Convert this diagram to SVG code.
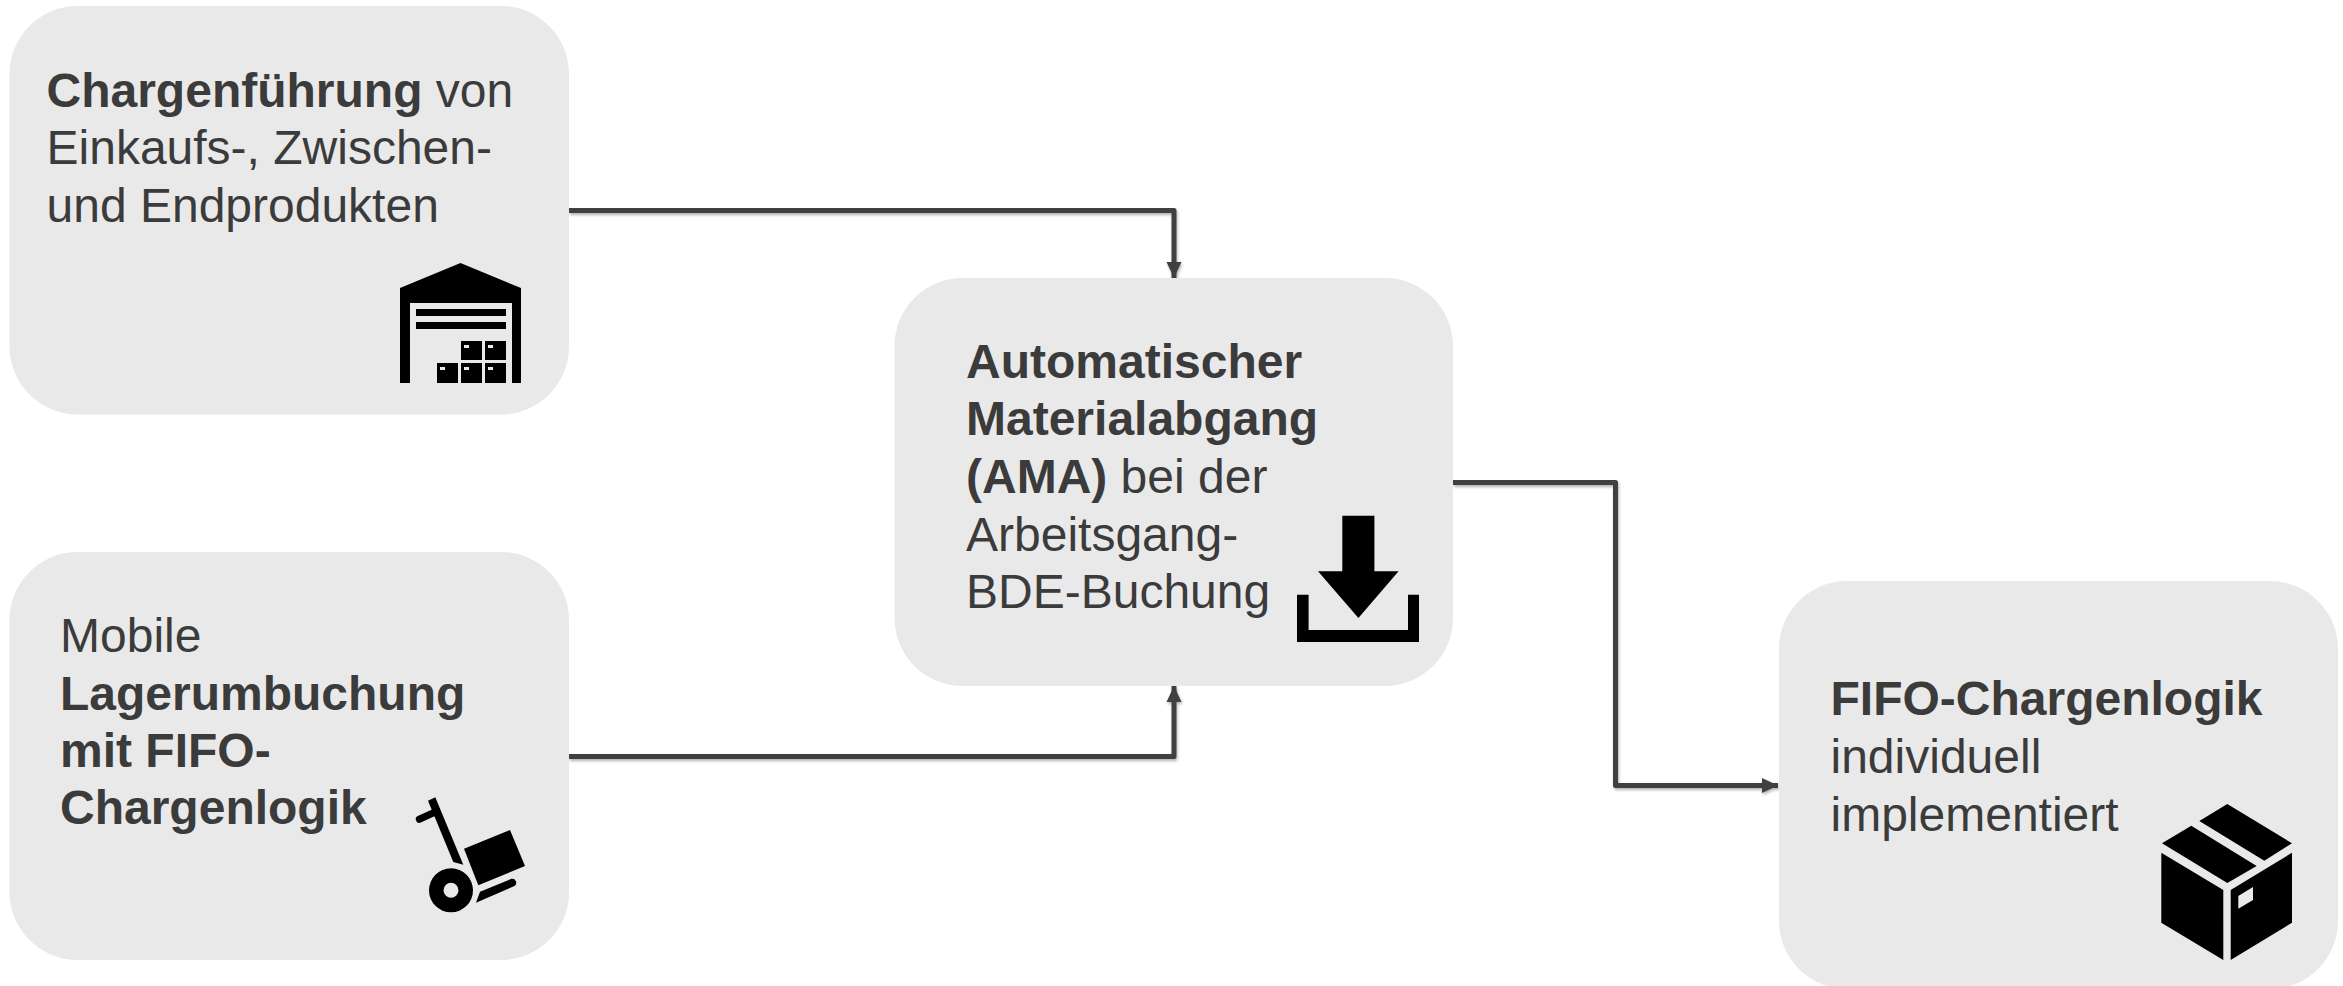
<svg xmlns="http://www.w3.org/2000/svg" width="2343" height="986" viewBox="0 0 2343 986">
<style>
.box{fill:#e9e9e9}
text{font-family:"Liberation Sans",Arial,sans-serif;font-size:48px;fill:#3b3b3b}
.b{font-weight:700}
.ic{fill:#000}
.cn{fill:none;stroke:#3f3f3f;stroke-width:5;stroke-linejoin:round}
</style>
<defs>
<marker id="ah" markerUnits="userSpaceOnUse" markerWidth="18" markerHeight="16" refX="17" refY="8" orient="auto"><path d="M1 0.5L17 8L1 15.500Z" fill="#3f3f3f"/></marker>
<filter id="sh" x="-5%" y="-5%" width="110%" height="110%"><feDropShadow dx="1" dy="2" stdDeviation="1.500" flood-color="#000" flood-opacity="0.3"/></filter>
</defs>
<rect width="2343" height="986" fill="#fff"/>
<g id="connectors" filter="url(#sh)">
<path class="cn" d="M569 210.500H1174V278" marker-end="url(#ah)"/>
<path class="cn" d="M569 756.500H1174V686" marker-end="url(#ah)"/>
<path class="cn" d="M1453 482.500H1615.500V785.500H1778" marker-end="url(#ah)"/>
</g>
<g id="node-chargenfuehrung">
<rect class="box" x="9.500" y="6" width="559.500" height="408.500" rx="68"/>
<text x="46.500" y="106.500"><tspan class="b">Chargenführung</tspan> von</text>
<text x="46.500" y="164">Einkaufs-, Zwischen-</text>
<text x="46.500" y="221.500">und Endprodukten</text>
<g class="ic">
<path fill-rule="evenodd" d="M400 288L460.500 263L521 288V383H512V303H410V383H400Z"/>
<rect x="416" y="309" width="90" height="7"/><rect x="416" y="322" width="90" height="7"/>
<path fill-rule="evenodd" d="M461 341h21v19h-21zM464 345v3h5v-3zM485 341h21v19h-21zM488 345v3h5v-3zM437 363h21v20h-21zM440 367v3h5v-3zM461 363h21v20h-21zM464 367v3h5v-3zM485 363h21v20h-21zM488 367v3h5v-3z"/>
</g>
</g>
<g id="node-lagerumbuchung">
<rect class="box" x="9.500" y="552" width="559.500" height="408" rx="68"/>
<text x="60" y="652">Mobile</text>
<text class="b" x="60" y="709.500">Lagerumbuchung</text>
<text class="b" x="60" y="767">mit FIFO-</text>
<text class="b" x="60" y="824">Chargenlogik</text>
<g class="ic">
<path d="M428 800.700L435.300 797.300L463.300 864.700L453.300 862Z"/>
<path d="M419.300 819.300L433 813" fill="none" stroke="#000" stroke-width="7" stroke-linecap="round"/>
<path fill-rule="evenodd" d="M429 890.300a22 22 0 1 0 44 0a22 22 0 1 0 -44 0ZM443.500 890.300a7.500 7.500 0 1 1 15 0a7.500 7.500 0 1 1 -15 0Z"/>
<path d="M464 848.700L510 830L525 866L478.300 885.300Z"/>
<path d="M476 902.700L480 891.700L511.500 878.800A4 4 0 0 1 514.500 886Z"/>
</g>
</g>
<g id="node-ama">
<rect class="box" x="894.500" y="278" width="558.500" height="408" rx="68"/>
<text class="b" x="966" y="377.500">Automatischer</text>
<text class="b" x="966" y="435">Materialabgang</text>
<text x="966" y="492.500"><tspan class="b">(AMA)</tspan> bei der</text>
<text x="966" y="550.500">Arbeitsgang-</text>
<text x="966" y="607.500">BDE-Buchung</text>
<g class="ic">
<path d="M1342.300 515.700H1374.400V571.300H1398.600L1358.400 618L1318 571.300H1342.300Z"/>
<path d="M1297 594.700H1308.600V630H1408V594.700H1419V642H1297Z"/>
</g>
</g>
<g id="node-fifo">
<rect class="box" x="1779" y="581" width="559" height="408" rx="68"/>
<text class="b" x="1830.500" y="715">FIFO-Chargenlogik</text>
<text x="1830.500" y="773">individuell</text>
<text x="1830.500" y="831">implementiert</text>
<g class="ic">
<path d="M2199.300 821L2227.300 804L2292 843.300L2264.300 860.700Z"/>
<path d="M2162 843.300L2191.300 825.700L2256.700 866L2227.300 883Z"/>
<path d="M2161.300 852.700L2223.300 890V960L2161.300 922.700Z"/>
<path fill-rule="evenodd" d="M2230.700 890L2292 852.700V922.700L2230.700 960ZM2238.300 896V908.700L2253 900V887Z"/>
</g>
</g>
</svg>
